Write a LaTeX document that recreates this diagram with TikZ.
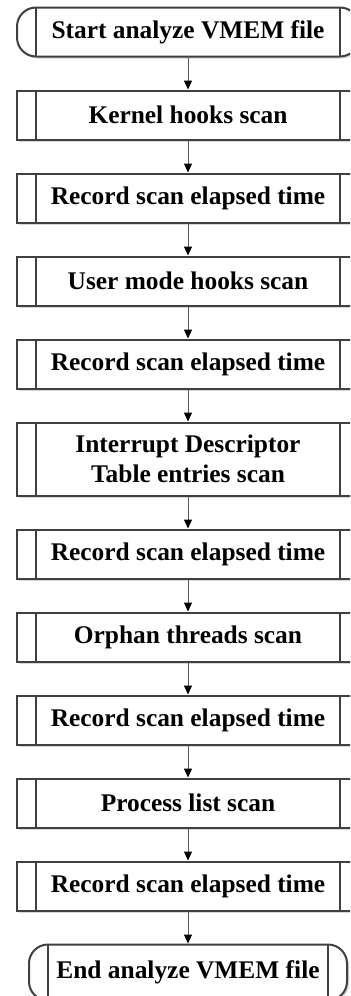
\documentclass[tikz,border=0pt]{standalone}
\usepackage{fontspec}
\setmainfont{Liberation Serif}
\usetikzlibrary{positioning}
\usetikzlibrary{arrows.meta}
\usetikzlibrary{shadows}
\colorlet{framecol}{black!75}
\tikzset{	node distance=16pt,
	every node/.style={
		font=\bfseries\fontsize{12.7}{15}\selectfont},
	process/.style={
		draw=framecol,
		line width=1pt,
		fill=white,
		align=center,
		minimum width=171pt,
		minimum height=24.5pt,
		drop shadow={shadow xshift=1pt, shadow yshift=-1pt, fill=black!30},
		path picture={
			\draw[framecol, line width=1pt]
				([xshift=9.5pt]path picture bounding box.north west) --
				([xshift=9.5pt]path picture bounding box.south west)
				([xshift=-9.5pt]path picture bounding box.north east) --
				([xshift=-9.5pt]path picture bounding box.south east);
		}},
	terminal/.style={
		process,
		rounded corners=9.5pt},
	every edge/.style={
		draw,
		black!65,
		line width=0.5pt,
		-{Triangle[width=4pt, length=4.5pt, color=black]}}
}

\begin{document}
\begin{tikzpicture}
			\fill[white] (0,0) rectangle (175pt,-498pt);
			\useasboundingbox (0,0) rectangle (175pt,-498pt);
			\clip (0,0) rectangle (175pt,-498pt);
			\node[terminal] (start) at (94pt,-16pt) {Start analyze VMEM file};
			\node[process, below=of start] (kernel) {Kernel hooks scan};
			\node[process, below=of kernel] (rec1) {Record scan elapsed time};
			\node[process, below=of rec1] (user) {User mode hooks scan};
			\node[process, below=of user] (rec2) {Record scan elapsed time};
			\node[process, below=of rec2, minimum height=36.5pt] (idt) {Interrupt Descriptor\\Table entries scan};
			\node[process, below=of idt] (rec3) {Record scan elapsed time};
			\node[process, below=of rec3] (orphan) {Orphan threads scan};
			\node[process, below=of orphan] (rec4) {Record scan elapsed time};
			\node[process, below=of rec4] (proc) {Process list scan};
			\node[process, below=of proc] (rec5) {Record scan elapsed time};
			\node[terminal, below=of rec5, minimum width=159pt, minimum height=28pt] (end) {End analyze VMEM file};
			\draw (start) edge (kernel);
			\draw (kernel) edge (rec1);
			\draw (rec1) edge (user);
			\draw (user) edge (rec2);
			\draw (rec2) edge (idt);
			\draw (idt) edge (rec3);
			\draw (rec3) edge (orphan);
			\draw (orphan) edge (rec4);
			\draw (rec4) edge (proc);
			\draw (proc) edge (rec5);
			\draw (rec5) edge (end);
		\end{tikzpicture}
\end{document}
